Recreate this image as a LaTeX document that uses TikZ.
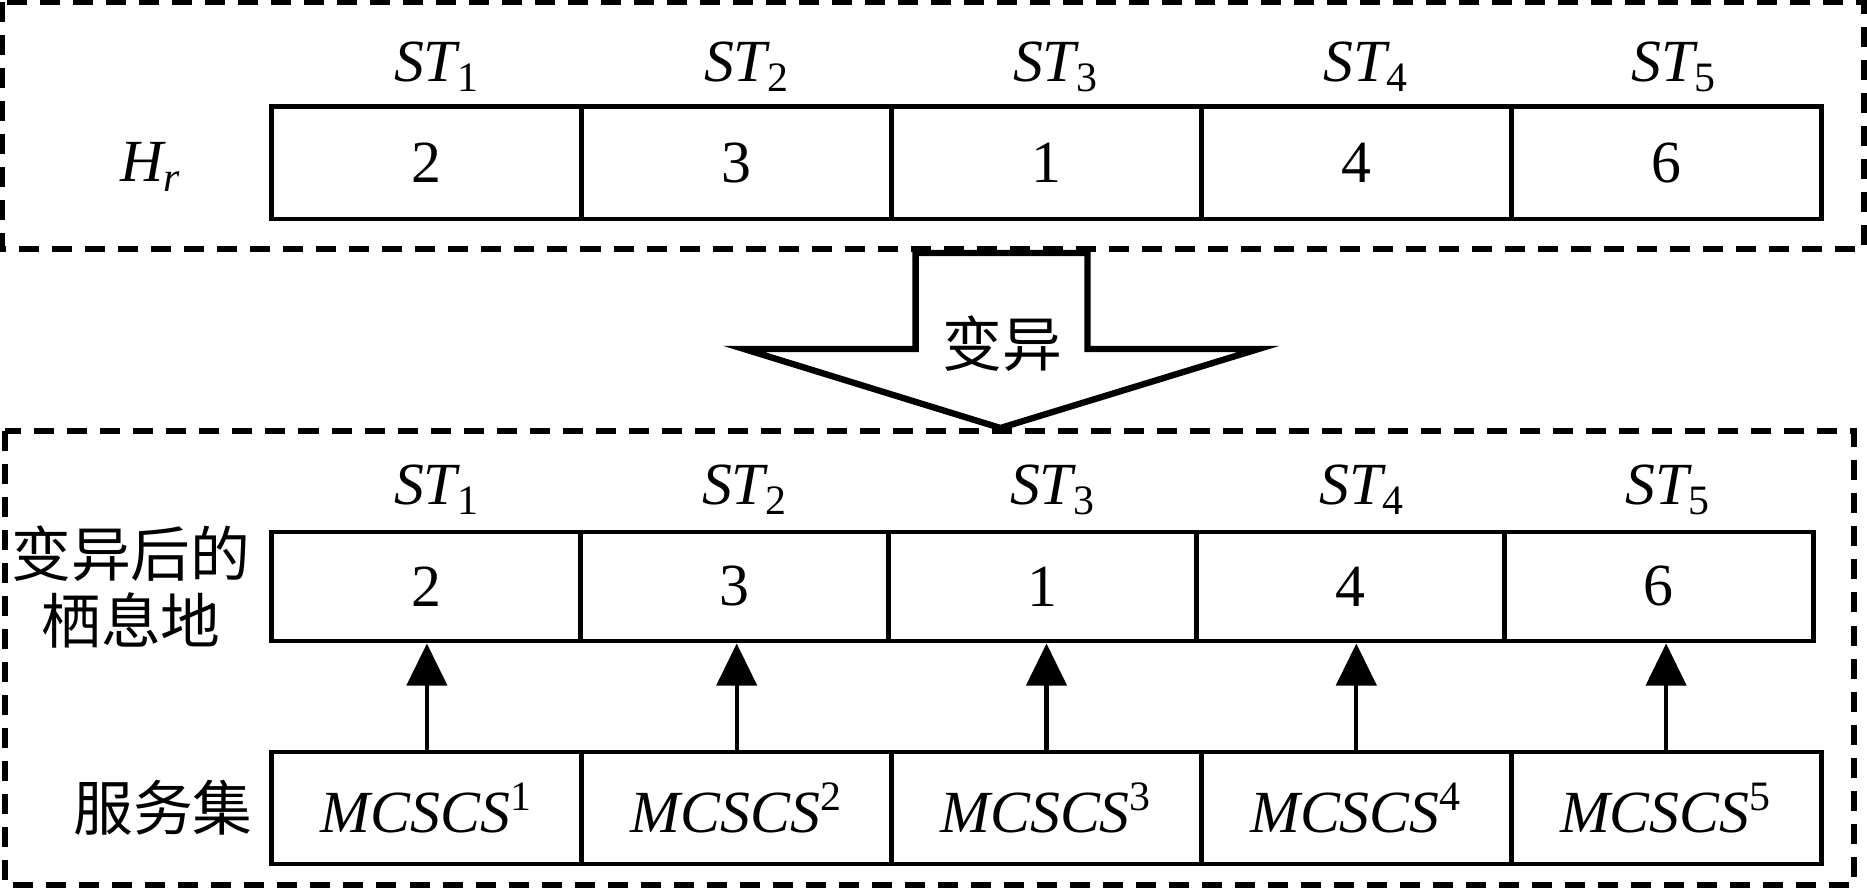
\documentclass[tikz,border=0pt]{standalone}
\usepackage{fontspec}
\setmainfont{Liberation Serif}
\newfontfamily\cjk{Noto Sans CJK SC}
\usetikzlibrary{arrows.meta}

\begin{document}
\begin{tikzpicture}[x=0.01cm,y=-0.01cm,
  font=\fontsize{17}{19}\selectfont,
  slot/.style={draw,line width=1.4pt,minimum width=3.098cm,minimum height=1.12cm,inner sep=0pt},
  mslot/.style={slot,minimum width=3.082cm,minimum height=1.09cm},
  zone/.style={line width=1.5pt,dash pattern=on 0.2cm off 0.13cm},
  feed/.style={-{Triangle[length=0.42cm,width=0.4cm]},line width=1.2pt},
  han/.style={font=\cjk\fontsize{17}{19}\selectfont}]
  \useasboundingbox (0,0) rectangle (1867,889);
  % dashed frames
  \draw[zone] (2,2) rectangle (1864,249);
  \draw[zone] (5,431) rectangle (1854,885);

  % habitat H_r
  \node[anchor=base] (hr) at (151,182) {\itshape H\textsubscript{r}};
  \node[slot] (h1) at (426.9,163) {2};
  \node[slot] (h2) at (736.7,163) {3};
  \node[slot] (h3) at (1046.5,163) {1};
  \node[slot] (h4) at (1356.3,163) {4};
  \node[slot] (h5) at (1666.1,163) {6};
  \node[anchor=base] (ht1) at (437,82) {{\itshape ST}\textsubscript{1}};
  \node[anchor=base] (ht2) at (747,82) {{\itshape ST}\textsubscript{2}};
  \node[anchor=base] (ht3) at (1056,82) {{\itshape ST}\textsubscript{3}};
  \node[anchor=base] (ht4) at (1366,82) {{\itshape ST}\textsubscript{4}};
  \node[anchor=base] (ht5) at (1674,82) {{\itshape ST}\textsubscript{5}};

  % mutation arrow
  \draw[line width=1.8pt,fill=white] (915.6,253) -- (915.6,349) -- (744,349) -- (1000.4,428)
    -- (1258.5,349) -- (1087.5,349) -- (1087.5,253) -- cycle;
  \node[han] (mut) at (1002,344) {变异};

  % mutated habitat
  \node[han,align=center] (mh) at (131,587) {变异后的\\栖息地};
  \node[mslot] (m1) at (426.1,586.5) {2};
  \node[mslot] (m2) at (734.3,586.5) {3};
  \node[mslot] (m3) at (1042.5,586.5) {1};
  \node[mslot] (m4) at (1350.7,586.5) {4};
  \node[mslot] (m5) at (1658.9,586.5) {6};
  \node[anchor=base] (mt1) at (437,505) {{\itshape ST}\textsubscript{1}};
  \node[anchor=base] (mt2) at (745,505) {{\itshape ST}\textsubscript{2}};
  \node[anchor=base] (mt3) at (1053,505) {{\itshape ST}\textsubscript{3}};
  \node[anchor=base] (mt4) at (1362,505) {{\itshape ST}\textsubscript{4}};
  \node[anchor=base] (mt5) at (1668,505) {{\itshape ST}\textsubscript{5}};

  % service sets
  \node[han] (sv) at (163,808) {服务集};
  \node[slot] (s1) at (426.9,808) {{\itshape MCSCS}\textsuperscript{1}};
  \node[slot] (s2) at (736.7,808) {{\itshape MCSCS}\textsuperscript{2}};
  \node[slot] (s3) at (1046.5,808) {{\itshape MCSCS}\textsuperscript{3}};
  \node[slot] (s4) at (1356.3,808) {{\itshape MCSCS}\textsuperscript{4}};
  \node[slot] (s5) at (1666.1,808) {{\itshape MCSCS}\textsuperscript{5}};

  \draw[feed] (s1.north) -- (s1.north |- m1.south);
  \draw[feed] (s2.north) -- (s2.north |- m2.south);
  \draw[feed] (s3.north) -- (s3.north |- m3.south);
  \draw[feed] (s4.north) -- (s4.north |- m4.south);
  \draw[feed] (s5.north) -- (s5.north |- m5.south);
\end{tikzpicture}
\end{document}
